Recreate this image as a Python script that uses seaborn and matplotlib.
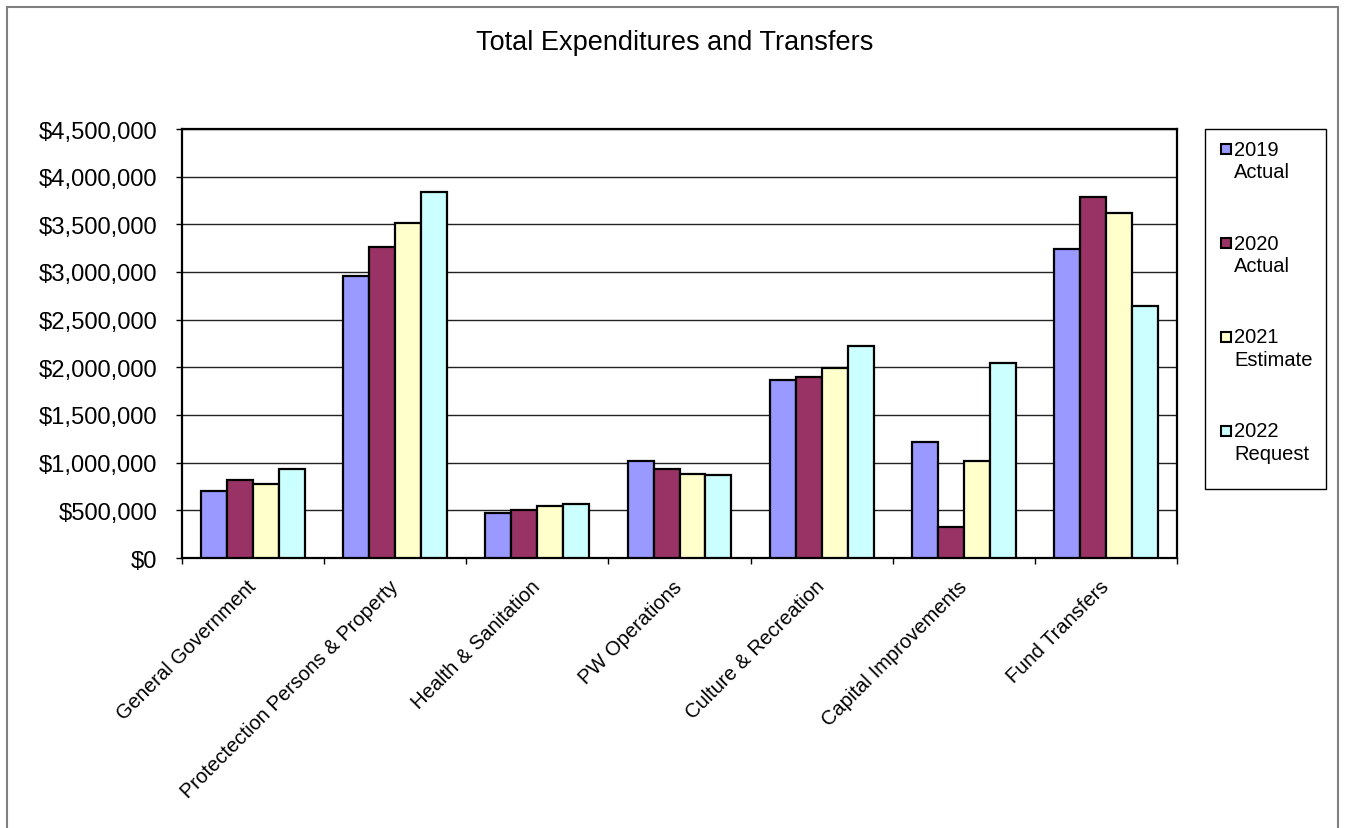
import matplotlib
matplotlib.use("Agg")
import matplotlib.pyplot as plt
import seaborn as sns
import pandas as pd
from matplotlib.patches import Rectangle
from matplotlib.ticker import FuncFormatter, FixedLocator, MultipleLocator

# Categories and yearly amounts (dollars)
categories = [
    "General Government",
    "Protectection Persons & Property",
    "Health & Sanitation",
    "PW Operations",
    "Culture & Recreation",
    "Capital Improvements",
    "Fund Transfers",
]
series_labels = ["2019\nActual", "2020\nActual", "2021\nEstimate", "2022\nRequest"]

actual_2019 = [700000, 2960000, 473000, 1022000, 1866000, 1215000, 3240000]
actual_2020 = [823000, 3257000, 507000, 935000, 1894000, 329000, 3789000]
estimate_2021 = [781000, 3509000, 549000, 886000, 1989000, 1015000, 3621000]
request_2022 = [935000, 3841000, 567000, 868000, 2223000, 2049000, 2644000]

bar_colors = ["#9999FF", "#993366", "#FFFFCC", "#CCFFFF"]

values = [actual_2019, actual_2020, estimate_2021, request_2022]
rows = []
for label, vals in zip(series_labels, values):
    for cat, v in zip(categories, vals):
        rows.append({"category": cat, "series": label, "amount": v})
df = pd.DataFrame(rows)

sns.set_style("white")
plt.rcParams["font.family"] = ["Liberation Sans", "DejaVu Sans"]
plt.rcParams["text.color"] = "black"
plt.rcParams["xtick.color"] = "black"
plt.rcParams["ytick.color"] = "black"
plt.rcParams["axes.labelcolor"] = "black"

W, H = 1346, 829
fig = plt.figure(figsize=(W / 100, H / 100), dpi=100)
ax = fig.add_axes([182 / W, (H - 559) / H, (1177 - 182) / W, (559 - 130) / H])

sns.barplot(
    data=df, x="category", y="amount", hue="series",
    order=categories, hue_order=series_labels,
    palette=bar_colors, saturation=1, width=0.73,
    edgecolor="black", linewidth=1.6, legend=False, ax=ax, zorder=3,
)

ax.set_xlim(-0.5, len(categories) - 0.5)
ax.set_ylim(0, 4500000)
ax.yaxis.set_major_locator(MultipleLocator(500000))
ax.yaxis.set_major_formatter(FuncFormatter(lambda v, p: f"${v:,.0f}"))
ax.grid(axis="y", color="#222222", linewidth=1.0, zorder=0)
ax.grid(axis="x", visible=False)
ax.set_axisbelow(True)
ax.set_xlabel("")
ax.set_ylabel("")

for side in ["left", "bottom", "top", "right"]:
    ax.spines[side].set_visible(True)
    ax.spines[side].set_color("black")
    ax.spines[side].set_linewidth(1.6)

# Category separators as ticks below the axis
ax.xaxis.set_minor_locator(FixedLocator([i - 0.5 for i in range(len(categories) + 1)]))
ax.tick_params(axis="x", which="minor", length=4.5, width=1.0, color="black", direction="out", bottom=True)
ax.tick_params(axis="x", which="major", length=0, pad=18, labelsize=14.5)
ax.tick_params(axis="y", which="major", length=4.5, width=1.0, color="black", direction="out",
               pad=13.5, labelsize=17.1, left=True)
ax.set_xticks(range(len(categories)))
ax.set_xticklabels(categories, rotation=45, ha="right", va="center", rotation_mode="anchor")

fig.text(675 / W, 1 - 43 / H, "Total Expenditures and Transfers", ha="center", va="center", fontsize=19.5)

# Legend: boxed, one swatch per series, two-line labels with the swatch beside the first line
fig.patches.append(Rectangle((1205 / W, 1 - 490 / H), (1326 - 1205) / W, (490 - 130) / H,
                             transform=fig.transFigure, facecolor="white",
                             edgecolor="black", linewidth=1.0, zorder=5))
entry_tops = [150, 244, 337.5, 431.5]
for label, color, y in zip(series_labels, bar_colors, entry_tops):
    first, second = label.split("\n")
    fig.patches.append(Rectangle((1220.5 / W, 1 - (y + 5) / H), 10 / W, 10 / H,
                                 transform=fig.transFigure, facecolor=color,
                                 edgecolor="black", linewidth=1.5, zorder=6))
    fig.text(1234 / W, 1 - y / H, first, ha="left", va="center", fontsize=14.5, zorder=6)
    fig.text(1234 / W, 1 - (y + 23) / H, second, ha="left", va="center", fontsize=14.5, zorder=6)

# Outer chart border
fig.patches.append(Rectangle((7 / W, -0.02), (1338 - 7) / W, 1.02 - 8 / H,
                             transform=fig.transFigure, fill=False,
                             edgecolor="#808080", linewidth=1.5))

fig.savefig("out.png", dpi=100)
